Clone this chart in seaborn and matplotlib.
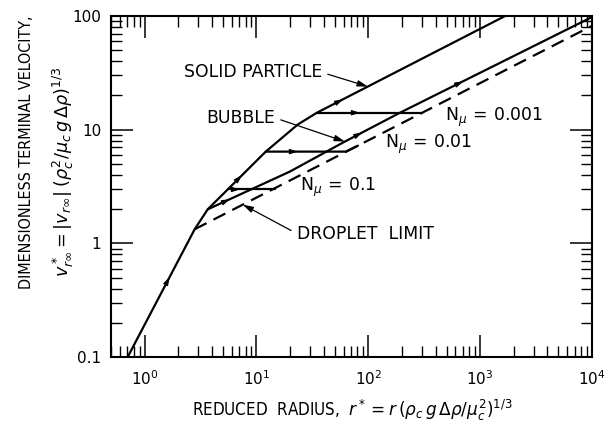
import numpy as np
import pandas as pd
import matplotlib
matplotlib.use("Agg")
import matplotlib.pyplot as plt
import matplotlib.text as mtext
import seaborn as sns

# ---------------- data ----------------
solid_r = [0.705, 2.80, 3.66, 5.53, 12.1, 23.4, 34.7, 1671]
solid_v = [0.10, 1.33, 1.99, 2.98, 6.41, 11.1, 14.1, 100]

bubble_r = [3.66, 19.9, 61.7, 192, 10000]
bubble_v = [1.99, 4.28, 7.86, 14.1, 98]

droplet_r = [2.80, 10000]
droplet_v = [1.33, 82]

nmu01_r = [5.53, 14.6]
nmu01_v = [2.98, 2.98]
nmu001_r = [12.1, 62.9, 80.7]
nmu001_v = [6.41, 6.41, 7.23]
nmu0001_r = [34.7, 301]
nmu0001_v = [14.1, 14.1]

x_ticks = [1, 10, 100, 1000, 10000]
x_ticklabels = ["$10^0$", "$10^1$", "$10^2$", "$10^3$", "$10^4$"]
y_ticks = [0.1, 1, 10, 100]
y_ticklabels = ["0.1", "1", "10", "100"]

nmu_texts = [r"N$_\mu\,{=}\,$0.1", r"N$_\mu\,{=}\,$0.01", r"N$_\mu\,{=}\,$0.001"]

# ---------------- styling ----------------
sns.set_theme(style="ticks")
plt.rcParams["font.family"] = ["DejaVu Sans"]
plt.rcParams["mathtext.fontset"] = "dejavusans"
plt.rcParams["text.color"] = "black"

fig = plt.figure(figsize=(6.12, 4.32), dpi=100)
ax = fig.add_axes([111 / 612, 1 - 357 / 432, (592 - 111) / 612, (357 - 16) / 432])

LW = 1.6
def draw(r, v, dashed=False):
    df = pd.DataFrame({"r": r, "v": v})
    sns.lineplot(data=df, x="r", y="v", ax=ax, color="black", lw=LW,
                 sort=False, estimator=None,
                 linestyle=(0, (6, 3.5)) if dashed else "-")

draw(solid_r, solid_v)
draw(bubble_r, bubble_v)
draw(droplet_r, droplet_v, dashed=True)
draw(nmu01_r, nmu01_v)
draw(nmu001_r, nmu001_v)
draw(nmu0001_r, nmu0001_v)

ax.set_xscale("log")
ax.set_yscale("log")
ax.set_xlim(0.5, 10000)
ax.set_ylim(0.1, 100)

def interp_log(r, v, x):
    lr, lv = np.log10(r), np.log10(v)
    return 10 ** np.interp(np.log10(x), lr, lv)

def arrowhead(r, v, x):
    y = interp_log(r, v, x)
    x0 = x / 1.08
    y0 = interp_log(r, v, x0)
    ax.annotate("", xy=(x, y), xytext=(x0, y0),
                arrowprops=dict(arrowstyle="-|>,head_length=0.4,head_width=0.13",
                                color="black", lw=0.8, shrinkA=0, shrinkB=0))

for xa in [1.67, 7.4, 59.3]:
    arrowhead(solid_r, solid_v, xa)
for xa in [5.77, 88, 703]:
    arrowhead(bubble_r, bubble_v, xa)
arrowhead(nmu01_r, nmu01_v, 7.1)
arrowhead(nmu001_r, nmu001_v, 23.4)
arrowhead(nmu0001_r, nmu0001_v, 84)

# ticks
ax.set_xticks(x_ticks)
ax.set_xticklabels(x_ticklabels)
ax.set_yticks(y_ticks)
ax.set_yticklabels(y_ticklabels)
ax.tick_params(which="both", direction="in", top=True, right=True, color="black",
               labelsize=11, labelcolor="black")
ax.tick_params(which="major", length=16, width=1.1)
ax.tick_params(which="minor", length=8, width=1.0)
ax.tick_params(axis="x", pad=9)
ax.tick_params(axis="y", pad=7)
for s in ax.spines.values():
    s.set_visible(True)
    s.set_color("black")
    s.set_linewidth(1.5)
ax.set_xlabel("")
ax.set_ylabel("")

TS = 12.4
AP = dict(arrowstyle="-|>,head_length=0.5,head_width=0.15",
          color="black", lw=0.9, shrinkA=2, shrinkB=0)
ax.annotate("SOLID PARTICLE", xy=(99, interp_log(solid_r, solid_v, 99)),
            xytext=(38.4, 31.9), ha="right", va="center", fontsize=TS,
            color="black", arrowprops=dict(AP, relpos=(1, 0.5)))
ax.annotate("BUBBLE", xy=(61.7, interp_log(bubble_r, bubble_v, 61.7)),
            xytext=(14.6, 12.7), ha="right", va="center", fontsize=TS,
            color="black", arrowprops=dict(AP, relpos=(1, 0.5)))
ax.annotate("DROPLET  LIMIT", xy=(7.54, interp_log(droplet_r, droplet_v, 7.54)),
            xytext=(22.9, 1.22), ha="left", va="center", fontsize=TS,
            color="black", arrowprops=dict(AP, relpos=(0, 0.5)))
for txt, (xt, yt) in zip(nmu_texts, [(24.5, 3.1), (141, 7.4), (485, 12.7)]):
    ax.text(xt, yt, txt, ha="left", va="center", fontsize=TS, color="black")

fitted = []
t = fig.text(27 / 612, 1 - 152 / 432, "DIMENSIONLESS TERMINAL VELOCITY,",
             rotation=90, ha="center", va="center", fontsize=11,
             fontstretch="condensed", color="black")
fitted.append((t, -275))
t = fig.text(63 / 612, 1 - 172 / 432,
             r"$v^*_{r\infty} = |v_{r\infty}|\;(\rho_c^2/\mu_c\,g\,\Delta\rho)^{1/3}$",
             rotation=90, ha="center", va="center", fontsize=13, color="black")
fitted.append((t, -210))
t = fig.text(352 / 612, 1 - 410 / 432,
             r"REDUCED  RADIUS,  $r^* = r\,(\rho_c\,g\,\Delta\rho/\mu_c^2)^{1/3}$",
             ha="center", va="center", fontsize=12, fontstretch="condensed",
             color="black")
fitted.append((t, 320))

# fit the axis titles to the extent they have in the reference
fig.canvas.draw()
rend = fig.canvas.get_renderer()
for t, w in fitted:
    bb = mtext.Text.get_window_extent(t, rend)
    cur = bb.height if w < 0 else bb.width
    t.set_fontsize(min(14, t.get_fontsize() * abs(w) / cur))

fig.savefig("out.png", dpi=100)
